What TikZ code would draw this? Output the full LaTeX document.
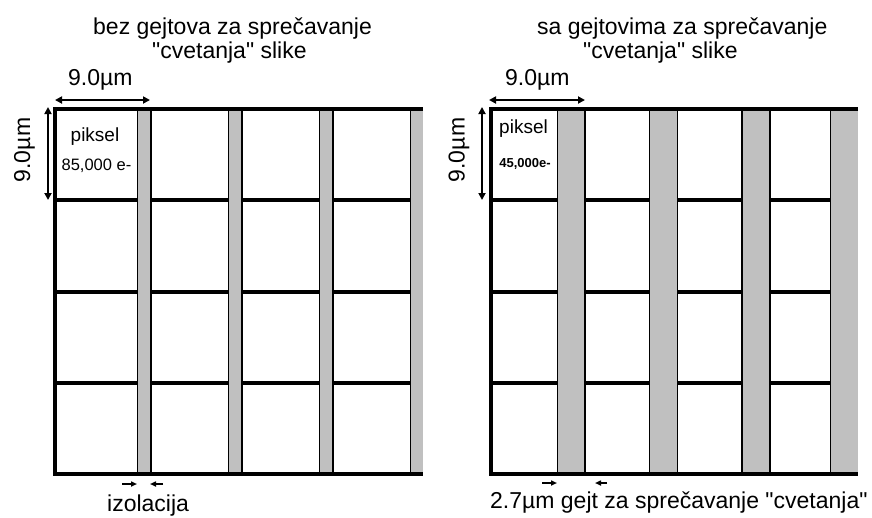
\documentclass[tikz,border=0pt]{standalone}
\usepackage{fontspec}
\setmainfont{Liberation Sans}
\usetikzlibrary{arrows.meta}
\definecolor{stripgray}{HTML}{C0C0C0}
\newcommand{\qd}{\textquotedbl}
\begin{document}
\begin{tikzpicture}[x=1pt,y=-1pt,
  big/.style={font=\fontsize{23}{26}\selectfont, inner sep=0pt, anchor=base west},
  grid line/.style={line width=4pt},
  frame line/.style={line width=4pt, line join=miter},
  strip fill/.style={fill=stripgray, draw=none},
  strip edge/.style={line width=1.5pt},
  dimarrow/.style={line width=2pt, {Triangle[length=7pt,width=7pt]}-{Triangle[length=7pt,width=7pt]}},
  gaparrow/.style={line width=1.6pt, -{Triangle[length=6pt,width=5pt]}}]
\useasboundingbox (0,0) rectangle (872,517);

% ---------- titles ----------
\node[big] (tl1) at (93,34) {bez gejtova za sprečavanje};
\node[big] (tl2) at (152,58) {\qd cvetanja\qd{} slike};
\node[big] (tr1) at (537,34) {sa gejtovima za sprečavanje};
\node[big] (tr2) at (583,58) {\qd cvetanja\qd{} slike};

% ---------- left grid ----------
\foreach \y in {200,291.5,383} \draw[grid line] (55,\y) -- (423,\y);
\foreach \a/\b in {137.7/150.8, 228.7/241.8, 319.7/332.8} {
  \fill[strip fill] (\a,108) rectangle (\b,474);
  \draw[strip edge] (\a,108) -- (\a,474);
  \draw[strip edge] (\b,108) -- (\b,474);
}
\fill[strip fill] (410.7,108) rectangle (423,474);
\draw[strip edge] (410.7,108) -- (410.7,474);
\draw[frame line] (423,108.5) -- (55.3,108.5) -- (55.3,474) -- (423,474);

% ---------- right grid ----------
\foreach \y in {200,291.5,383} \draw[grid line] (491,\y) -- (858,\y);
\foreach \a/\b in {557.5/585.2, 649.5/677.5, 742/770} {
  \fill[strip fill] (\a,108) rectangle (\b,474);
  \draw[strip edge] (\a,108) -- (\a,474);
  \draw[strip edge] (\b,108) -- (\b,474);
}
\fill[strip fill] (830.5,108) rectangle (858,474);
\draw[strip edge] (830.5,108) -- (830.5,474);
\draw[frame line] (858,108.5) -- (491.3,108.5) -- (491.3,474) -- (858,474);

% ---------- cell texts ----------
\node[font=\fontsize{19}{22}\selectfont, inner sep=0pt, anchor=base] (pl) at (95,141) {piksel};
\node[font=\fontsize{16.5}{19}\selectfont, inner sep=0pt, anchor=base] (el) at (96.5,170) {85,000 e-};
\node[font=\fontsize{19}{22}\selectfont, inner sep=0pt, anchor=base] (pr) at (523.5,133) {piksel};
\node[font=\fontsize{13}{15}\selectfont\bfseries, inner sep=0pt, anchor=base] (er) at (525,167) {45,000e-};

% ---------- dimensions, left ----------
\node[big] (dhl) at (68,85) {9.0µm};
\coordinate (hl1) at (55,100);
\coordinate (hl2) at (150,100);
\draw[dimarrow] (hl1) -- (hl2);
\node[font=\fontsize{23}{26}\selectfont, inner sep=0pt, anchor=base, rotate=90] (dvl) at (30,150) {9.0µm};
\coordinate (vl1) at (48,107);
\coordinate (vl2) at (48,200);
\draw[dimarrow] (vl1) -- (vl2);

% ---------- dimensions, right ----------
\node[big] (dhr) at (505,85) {9.0µm};
\coordinate (hr1) at (489,100);
\coordinate (hr2) at (585,100);
\draw[dimarrow] (hr1) -- (hr2);
\node[font=\fontsize{23}{26}\selectfont, inner sep=0pt, anchor=base, rotate=90] (dvr) at (464.5,150) {9.0µm};
\coordinate (vr1) at (482,107);
\coordinate (vr2) at (482,200);
\draw[dimarrow] (vr1) -- (vr2);

% ---------- gap arrows and labels ----------
\coordinate (gl1) at (122,484); \coordinate (gl2) at (137,484);
\coordinate (gl3) at (163,484); \coordinate (gl4) at (150,484);
\draw[gaparrow] (gl1) -- (gl2);
\draw[gaparrow] (gl3) -- (gl4);
\node[big] (iz) at (107,511) {izolacija};

\coordinate (gr1) at (542,483); \coordinate (gr2) at (557,483);
\coordinate (gr3) at (607,483); \coordinate (gr4) at (595,483);
\draw[gaparrow] (gr1) -- (gr2);
\draw[gaparrow] (gr3) -- (gr4);
\node[big] (gt) at (490,508) {2.7µm gejt za sprečavanje \qd cvetanja\qd};
\end{tikzpicture}
\end{document}
